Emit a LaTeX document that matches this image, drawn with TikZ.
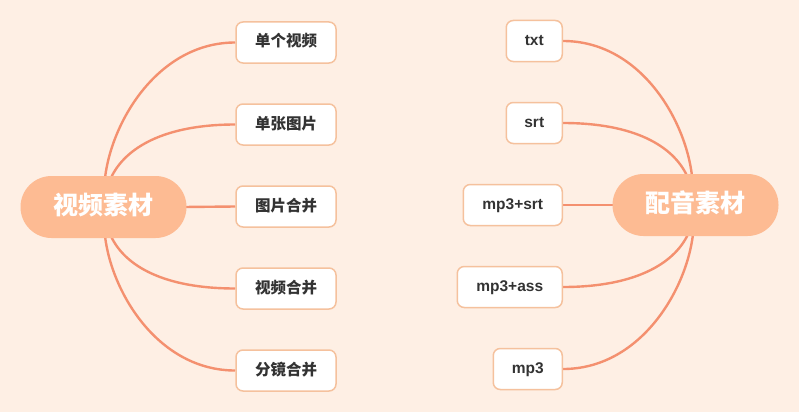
\documentclass[tikz,border=0pt]{standalone}
\usepackage{fontspec}
\usetikzlibrary{backgrounds}
\setmainfont{Liberation Sans}
\newfontfamily\cjk{Noto Sans CJK SC}
\definecolor{bgc}{HTML}{FEEFE4}
\definecolor{linec}{HTML}{F4906F}
\definecolor{mainc}{HTML}{FDBB93}
\definecolor{boxc}{HTML}{F5C19D}
\definecolor{txtc}{HTML}{333333}
\tikzset{
  mainnode/.style={fill=mainc, draw=none, rounded corners=31pt, minimum height=62pt,
    minimum width=166pt, inner sep=0pt, text=white, font=\cjk\bfseries\fontsize{25}{25}\selectfont,
    text height=18pt, text depth=3pt},
  leaf/.style={fill=white, draw=boxc, line width=1.5pt, rounded corners=7pt,
    minimum height=41pt, inner sep=0pt, text=txtc, font=\bfseries\fontsize{15.5}{15.5}\selectfont,
    text height=11pt, text depth=2pt},
  cleaf/.style={leaf, font=\cjk\bfseries\fontsize{15.5}{15.5}\selectfont, minimum width=100pt},
  link/.style={draw=linec, line width=2.4pt}
}
\begin{document}
\begin{tikzpicture}[x=1pt,y=-1pt]
\useasboundingbox (0,0) rectangle (799,412);
% main nodes
\node[mainnode] (vid) at (103.5,207) {视频素材};
\node[mainnode] (aud) at (695.5,205) {配音素材};
% left leaves
\node[cleaf] (l1) at (286,42.5) {单个视频};
\node[cleaf] (l2) at (286,124.5) {单张图片};
\node[cleaf] (l3) at (286,206.5) {图片合并};
\node[cleaf] (l4) at (286,288.5) {视频合并};
\node[cleaf] (l5) at (286,370.5) {分镜合并};
% right leaves
\node[leaf, anchor=east, minimum width=56pt] (r1) at (563,41) {txt};
\node[leaf, anchor=east, minimum width=56pt] (r2) at (563,123) {srt};
\node[leaf, anchor=east, minimum width=99pt] (r3) at (563,205) {mp3+srt};
\node[leaf, anchor=east, minimum width=105pt] (r4) at (563,287) {mp3+ass};
\node[leaf, anchor=east, minimum width=69pt] (r5) at (563,369) {mp3};
\coordinate (va) at ([xshift=1.5pt]vid.north);
\coordinate (vb) at ([xshift=7.5pt]vid.north);
\coordinate (vc) at ([xshift=1.5pt]vid.south);
\coordinate (vd) at ([xshift=7.5pt]vid.south);
\coordinate (aa) at ([xshift=-3.5pt]aud.north);
\coordinate (ab) at ([xshift=-8.5pt]aud.north);
\coordinate (ac) at ([xshift=-2.5pt]aud.south);
\coordinate (ad) at ([xshift=-7.5pt]aud.south);
\begin{scope}[on background layer]
\fill[bgc] (0,0) rectangle (799,412);
% left connectors
\draw[link] ([yshift=-2pt]va) .. controls ([xshift=7pt,yshift=56pt]va) and ([xshift=-76pt]l1.west) .. (l1.west);
\draw[link] ([yshift=-2pt]vb) .. controls ([xshift=14pt,yshift=28pt]vb) and ([xshift=-71pt]l2.west) .. (l2.west);
\draw[link] ([xshift=-3pt]vid.east) -- (l3.west);
\draw[link] ([yshift=2pt]vd) .. controls ([xshift=14pt,yshift=-28pt]vd) and ([xshift=-71pt]l4.west) .. (l4.west);
\draw[link] ([yshift=2pt]vc) .. controls ([xshift=7pt,yshift=-56pt]vc) and ([xshift=-76pt]l5.west) .. (l5.west);
% right connectors
\draw[link] ([yshift=-2pt]aa) .. controls ([xshift=-7pt,yshift=56pt]aa) and ([xshift=76pt]r1.east) .. (r1.east);
\draw[link] ([yshift=-2pt]ab) .. controls ([xshift=-14pt,yshift=28pt]ab) and ([xshift=71pt]r2.east) .. (r2.east);
\draw[link] ([xshift=3pt]aud.west) -- (r3.east);
\draw[link] ([yshift=2pt]ad) .. controls ([xshift=-14pt,yshift=-28pt]ad) and ([xshift=71pt]r4.east) .. (r4.east);
\draw[link] ([yshift=2pt]ac) .. controls ([xshift=-7pt,yshift=-56pt]ac) and ([xshift=76pt]r5.east) .. (r5.east);
\end{scope}
\end{tikzpicture}
\end{document}
